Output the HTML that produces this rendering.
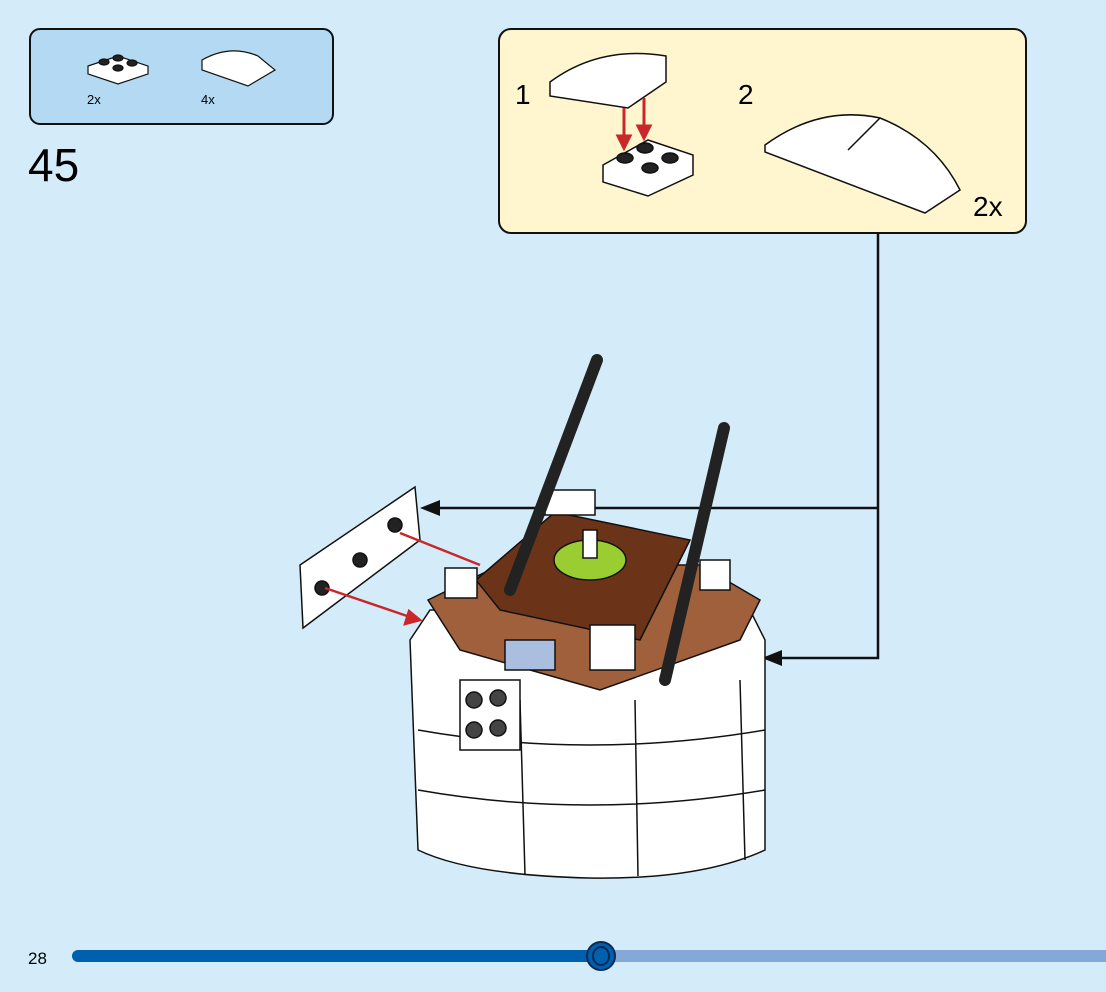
<!DOCTYPE html>
<html><head><style>
body{margin:0;background:#d4ecfa;}
svg{display:block}
text{font-family:"Liberation Sans",sans-serif;}
</style></head><body>
<svg width="1106" height="992" viewBox="0 0 1106 992" xmlns="http://www.w3.org/2000/svg">
<rect width="1106" height="992" fill="#d4ecfa"/>
<!-- parts box -->
<rect x="30" y="29" width="303" height="95" rx="10" fill="#b3d9f3" stroke="#111" stroke-width="2"/>
<g stroke="#111" stroke-width="1.2" fill="#fff">
<polygon points="88,66 118,56 148,66 148,74 118,84 88,74"/>
<ellipse cx="104" cy="62" rx="5" ry="3" fill="#222"/><ellipse cx="118" cy="58" rx="5" ry="3" fill="#222"/>
<ellipse cx="118" cy="68" rx="5" ry="3" fill="#222"/><ellipse cx="132" cy="63" rx="5" ry="3" fill="#222"/>
<path d="M202,60 Q230,44 258,56 L275,70 L248,86 L202,70 Z"/>
</g>
<text x="87" y="104" font-size="13">2x</text>
<text x="201" y="104" font-size="13">4x</text>
<text x="28" y="181" font-size="46">45</text>
<!-- callout -->
<rect x="499" y="29" width="527" height="204" rx="12" fill="#fff6cf" stroke="#111" stroke-width="2"/>
<text x="515" y="104" font-size="28">1</text>
<text x="738" y="104" font-size="28">2</text>
<text x="973" y="216" font-size="28">2x</text>
<g stroke="#111" stroke-width="1.5" fill="#fff">
<path d="M550,82 Q600,45 666,56 L666,82 L628,108 L550,96 Z"/>
<polygon points="603,165 648,140 693,155 693,175 648,196 603,182"/>
<ellipse cx="625" cy="158" rx="8" ry="5" fill="#222"/><ellipse cx="645" cy="148" rx="8" ry="5" fill="#222"/>
<ellipse cx="650" cy="168" rx="8" ry="5" fill="#222"/><ellipse cx="670" cy="158" rx="8" ry="5" fill="#222"/>
<path d="M765,145 Q820,105 880,118 Q935,140 960,190 L925,213 L765,152 Z"/>
<line x1="848" y1="150" x2="880" y2="118"/>
</g>
<g stroke="#c8282a" stroke-width="3" fill="#c8282a">
<line x1="624" y1="108" x2="624" y2="140"/><polygon points="618,136 630,136 624,148"/>
<line x1="644" y1="98" x2="644" y2="130"/><polygon points="638,126 650,126 644,138"/>
</g>
<!-- connector -->
<g stroke="#111" stroke-width="2.5" fill="none">
<polyline points="878,233 878,658 775,658"/>
<line x1="878" y1="508" x2="432" y2="508"/>
</g>
<polygon points="420,508 440,500 440,516" fill="#111"/>
<polygon points="762,658 782,650 782,666" fill="#111"/>
<!-- model body -->
<g stroke="#111" stroke-width="1.5">
<path d="M410,640 L430,610 L750,610 L765,640 L765,850 Q700,880 588,878 Q470,875 418,850 Z" fill="#fff"/>
<path d="M418,730 Q588,760 765,730 M418,790 Q588,820 765,790" fill="none"/>
<path d="M520,700 L525,875 M635,700 L638,876 M740,680 L745,860" fill="none"/>
<polygon points="428,600 500,565 700,565 760,600 740,640 600,690 460,650" fill="#a0603c"/>
<polygon points="476,580 555,512 690,540 640,640 500,610" fill="#6b3419"/>
<rect x="445" y="568" width="32" height="30" fill="#fff"/>
<rect x="545" y="490" width="50" height="25" fill="#fff"/>
<rect x="590" y="625" width="45" height="45" fill="#fff"/>
<rect x="700" y="560" width="30" height="30" fill="#fff"/>
<ellipse cx="590" cy="560" rx="36" ry="20" fill="#9acd32"/>
<rect x="583" y="530" width="14" height="28" fill="#fff"/>
<rect x="460" y="680" width="60" height="70" fill="#fff"/>
<circle cx="474" cy="700" r="8" fill="#444"/><circle cx="498" cy="698" r="8" fill="#444"/>
<circle cx="474" cy="730" r="8" fill="#444"/><circle cx="498" cy="728" r="8" fill="#444"/>
<rect x="505" y="640" width="50" height="30" fill="#aabfdf"/>
<polygon points="300,565 415,487 420,540 303,628" fill="#fff"/>
<circle cx="322" cy="588" r="7" fill="#222"/><circle cx="360" cy="560" r="7" fill="#222"/><circle cx="395" cy="525" r="7" fill="#222"/>
</g>
<g stroke="#222" stroke-width="12" stroke-linecap="round">
<line x1="597" y1="360" x2="510" y2="590"/>
<line x1="724" y1="428" x2="665" y2="680"/>
</g>
<g stroke="#c8282a" stroke-width="2.5" fill="#c8282a">
<line x1="400" y1="533" x2="480" y2="565"/>
<line x1="325" y1="588" x2="410" y2="617"/><polygon points="420,620 405,624 409,611"/>
</g>
<!-- progress -->
<line x1="78" y1="956" x2="600" y2="956" stroke="#0060b0" stroke-width="12" stroke-linecap="round"/>
<rect x="600" y="950" width="506" height="12" fill="#84a8d8"/>
<ellipse cx="601" cy="956" rx="14" ry="14" fill="#0060b0" stroke="#0a2a50" stroke-width="2"/>
<ellipse cx="601" cy="956" rx="8" ry="9" fill="none" stroke="#0a2a50" stroke-width="2"/>
<text x="28" y="964" font-size="17">28</text>
</svg>
</body></html>
